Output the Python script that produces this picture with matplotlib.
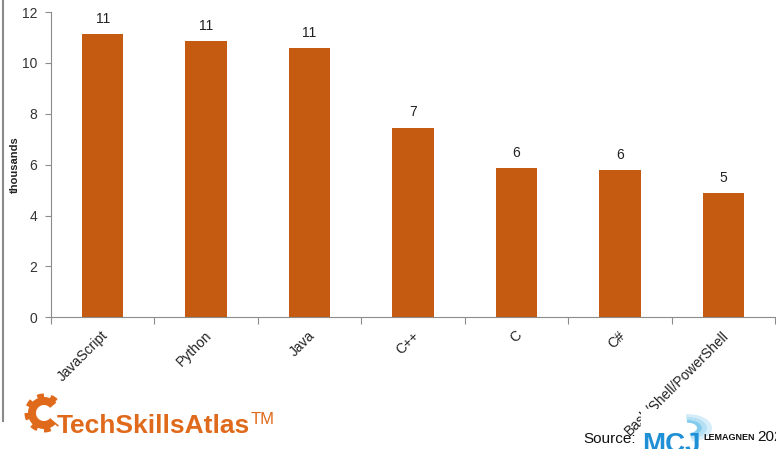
import numpy as np
import matplotlib
matplotlib.use("Agg")
import matplotlib.pyplot as plt
from matplotlib.patches import Polygon, Rectangle, Wedge
from matplotlib.lines import Line2D

# Data (thousands of postings)
languages = ["JavaScript", "Python", "Java", "C++", "C", "C#", "Bash/Shell/PowerShell"]
postings = [11.12, 10.85, 10.57, 7.45, 5.86, 5.79, 4.87]
y_ticks = [0, 2, 4, 6, 8, 10, 12]

BAR = "#C55A11"
LOGO = "#E06A1B"
W, H = 776, 449

plt.rcParams["font.family"] = ["Liberation Sans", "DejaVu Sans"]

fig = plt.figure(figsize=(W / 100, H / 100), dpi=100)
fig.patch.set_facecolor("white")

def fx(px):
    return px / W

def fy(py):
    return 1 - py / H

ax = fig.add_axes([fx(51), fy(317.3), fx(775) - fx(51), fy(12) - fy(317.3)])
x = np.arange(len(languages))
ax.bar(x, postings, width=0.4, color=BAR, zorder=2)
for xi, v in zip(x, postings):
    ax.annotate(f"{v:.0f}", (xi, v), xytext=(0, 6), textcoords="offset points",
                ha="center", va="bottom", fontsize=10, color="#222222")

ax.set_xlim(-0.5, len(languages) - 0.5)
ax.set_ylim(0, 12)
ax.set_yticks(y_ticks)
ax.tick_params(axis="y", labelsize=10, labelcolor="#333333", color="#8c8c8c",
               length=4, width=0.8, pad=6)

# category boundaries carry the ticks, labels sit under the bars
ax.set_xticks(np.arange(len(languages) + 1) - 0.5)
ax.set_xticklabels([])
ax.tick_params(axis="x", color="#8c8c8c", length=5, width=0.8)
for xi, name in zip(x, languages):
    ax.annotate(name, (xi, 0), xytext=(-1, -8), textcoords="offset points",
                rotation=45, rotation_mode="anchor", ha="right", va="top",
                fontsize=10, color="#222222", annotation_clip=False)

for side in ["top", "right"]:
    ax.spines[side].set_visible(False)
for side in ["left", "bottom"]:
    ax.spines[side].set_color("#8c8c8c")
    ax.spines[side].set_linewidth(0.8)

ax.set_ylabel("thousands", fontsize=8, fontweight="bold", color="#222222")
ax.yaxis.set_label_coords((20 - 51) / (775 - 51), 0.5)

# thin frame line at the far left
fig.add_artist(Line2D([fx(3), fx(3)], [fy(0), fy(421)], color="#8a8a8a", lw=1.5))

# TechSkillsAtlas logo: open gear plus wordmark
cx, cy = 44, 413
angles = np.linspace(np.deg2rad(40), np.deg2rad(320), 400)
teeth = 8
outer = 16 + 3.5 * (np.sign(np.sin(teeth * angles)) > 0)
pts = [(fx(cx + r * np.cos(a)), fy(cy - r * np.sin(a))) for r, a in zip(outer, angles)]
pts += [(fx(cx + 8 * np.cos(a)), fy(cy - 8 * np.sin(a))) for a in angles[::-1]]
fig.add_artist(Polygon(pts, closed=True, transform=fig.transFigure,
                       facecolor=LOGO, edgecolor="none"))
fig.text(fx(57), fy(433), "TechSkillsAtlas", fontsize=19, fontweight="bold",
         color=LOGO, ha="left", va="baseline")
fig.text(fx(251), fy(424), "TM", fontsize=12, color=LOGO, ha="left", va="baseline")

# source block, drawn over the end of the last label
fig.add_artist(Rectangle((fx(641), fy(449)), fx(702) - fx(641), fy(409) - fy(449),
                         transform=fig.transFigure, facecolor="white",
                         edgecolor="none", zorder=5))
fig.text(fx(583), fy(443), "Source:", fontsize=11, color="#111111",
         ha="left", va="baseline", zorder=6)
for r, a in [(24, 0.25), (19, 0.45), (14, 0.75)]:
    fig.add_artist(Wedge((fx(688), fy(428)), r / W, -80, 95, width=5 / W,
                         transform=fig.transFigure, facecolor="#5bbbe8",
                         alpha=a, edgecolor="none", zorder=6))
fig.text(fx(642), fy(452), "MCJ", fontsize=20, fontweight="bold", color="#1f8fd6",
         ha="left", va="baseline", zorder=7)
fig.text(fx(703), fy(440), "LEMAGNEN", fontsize=6.5, fontweight="bold",
         color="#111111", ha="left", va="baseline", zorder=7)
fig.text(fx(757), fy(441), "2023", fontsize=11, color="#111111",
         ha="left", va="baseline", zorder=7)

fig.savefig("out.png", dpi=100)
